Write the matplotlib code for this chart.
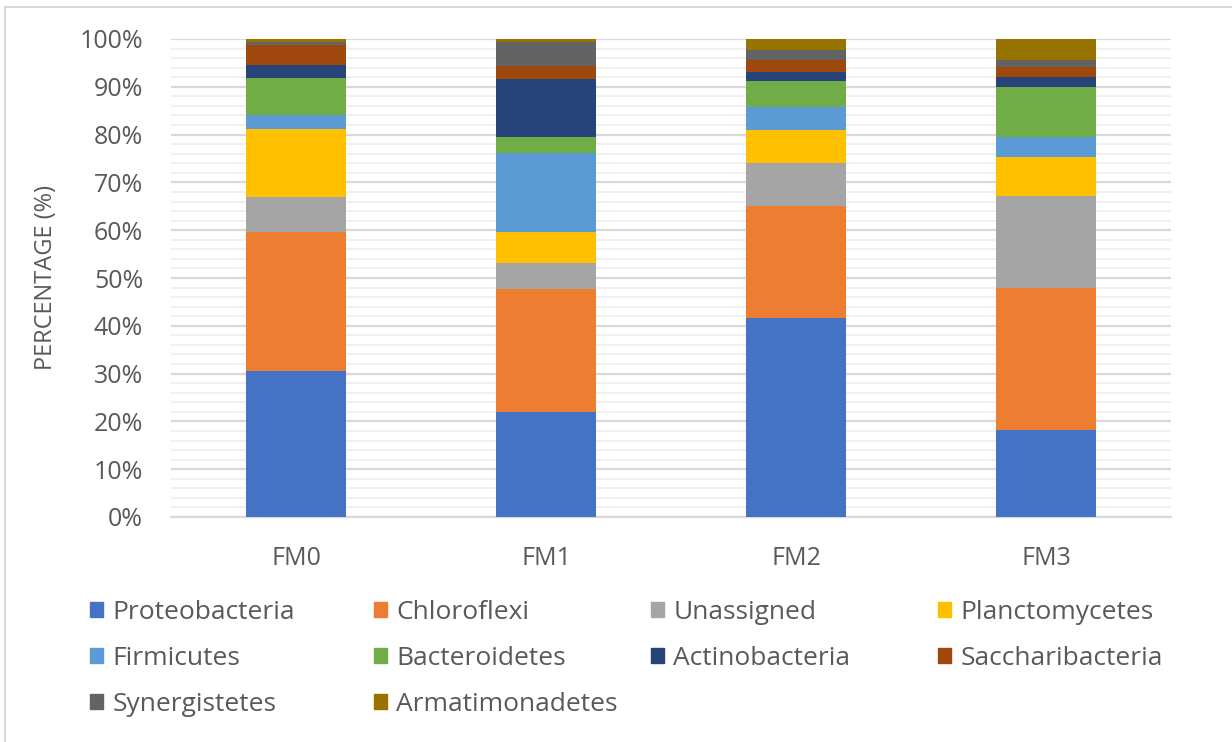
import numpy as np
import matplotlib
matplotlib.use("Agg")
import matplotlib.pyplot as plt
from matplotlib.patches import Patch, Rectangle
from matplotlib.ticker import MultipleLocator, PercentFormatter

samples = ["FM0", "FM1", "FM2", "FM3"]
phyla = ["Proteobacteria", "Chloroflexi", "Unassigned", "Planctomycetes",
         "Firmicutes", "Bacteroidetes", "Actinobacteria", "Saccharibacteria",
         "Synergistetes", "Armatimonadetes"]

# relative abundance (%) per sample, bottom to top
proteobacteria = [30.5, 22.0, 41.6, 18.3]
chloroflexi = [29.2, 25.6, 23.5, 29.7]
unassigned = [7.2, 5.6, 8.9, 19.2]
planctomycetes = [14.3, 6.5, 7.0, 8.2]
firmicutes = [2.8, 16.4, 4.7, 4.0]
bacteroidetes = [7.8, 3.5, 5.5, 10.6]
actinobacteria = [2.8, 12.0, 2.0, 2.1]
saccharibacteria = [4.1, 2.8, 2.4, 2.1]
synergistetes = [0.7, 5.0, 2.1, 1.4]
armatimonadetes = [0.6, 0.6, 2.3, 4.4]

colors = ["#4472C4", "#ED7D31", "#A5A5A5", "#FFC000", "#5B9BD5",
          "#70AD47", "#264478", "#9E480E", "#636363", "#997300"]

series = [proteobacteria, chloroflexi, unassigned, planctomycetes, firmicutes,
          bacteroidetes, actinobacteria, saccharibacteria, synergistetes,
          armatimonadetes]

plt.rcParams["font.family"] = ["Open Sans", "DejaVu Sans"]
txt = "#595959"

fig = plt.figure(figsize=(12.32, 7.42), dpi=100)
ax = fig.add_axes([171 / 1232, 1 - 517 / 742, 1000 / 1232, 478 / 742])

x = np.arange(len(samples))
bottom = np.zeros(len(samples))
for name, vals, c in zip(phyla, series, colors):
    vals = np.array(vals)
    ax.bar(x, vals, 0.4, bottom=bottom, color=c, label=name, zorder=3)
    bottom += vals

ax.set_xlim(-0.5, len(samples) - 0.5)
ax.set_ylim(0, 100)
ax.yaxis.set_major_locator(MultipleLocator(10))
ax.yaxis.set_minor_locator(MultipleLocator(2))
ax.yaxis.set_major_formatter(PercentFormatter(decimals=0))
ax.grid(axis="y", which="major", color="#D9D9D9", lw=1.6, zorder=0)
ax.grid(axis="y", which="minor", color="#F0F0F0", lw=1.4, zorder=0)
for s in ["top", "right", "left"]:
    ax.spines[s].set_visible(False)
ax.spines["bottom"].set_color("#D9D9D9")
ax.spines["bottom"].set_linewidth(1.6)

ax.set_xticks(x, samples)
ax.tick_params(axis="x", length=0, pad=21, labelsize=18, labelcolor=txt)
ax.tick_params(axis="y", which="both", length=0, pad=20, labelsize=18,
               labelcolor=txt)

ax.set_ylabel("PERCENTAGE (%)", fontsize=17, color=txt)
ax.yaxis.set_label_coords(-0.113, 0.5)

# legend: entries run row by row, four columns at fixed x positions
handles = [Patch(color=c) for c in colors]
col_x = [90, 374, 651, 938]
for j, cx in enumerate(col_x):
    idx = list(range(j, len(phyla), 4))
    leg = fig.legend([handles[i] for i in idx], [phyla[i] for i in idx],
                     loc="upper left", bbox_to_anchor=(cx / 1232, 1 - 600 / 742),
                     frameon=False, fontsize=19, handlelength=0.5,
                     handleheight=0.5, handletextpad=0.35, labelspacing=0.8,
                     borderpad=0, borderaxespad=0)
    for t in leg.get_texts():
        t.set_color(txt)

# chart frame
fig.patches.append(Rectangle((5 / 1232, -0.2), 1.3, 0.2 + 1 - 7 / 742,
                             transform=fig.transFigure, fill=False,
                             edgecolor="#D9D9D9", lw=1.5))

fig.savefig("out.png", dpi=100)
